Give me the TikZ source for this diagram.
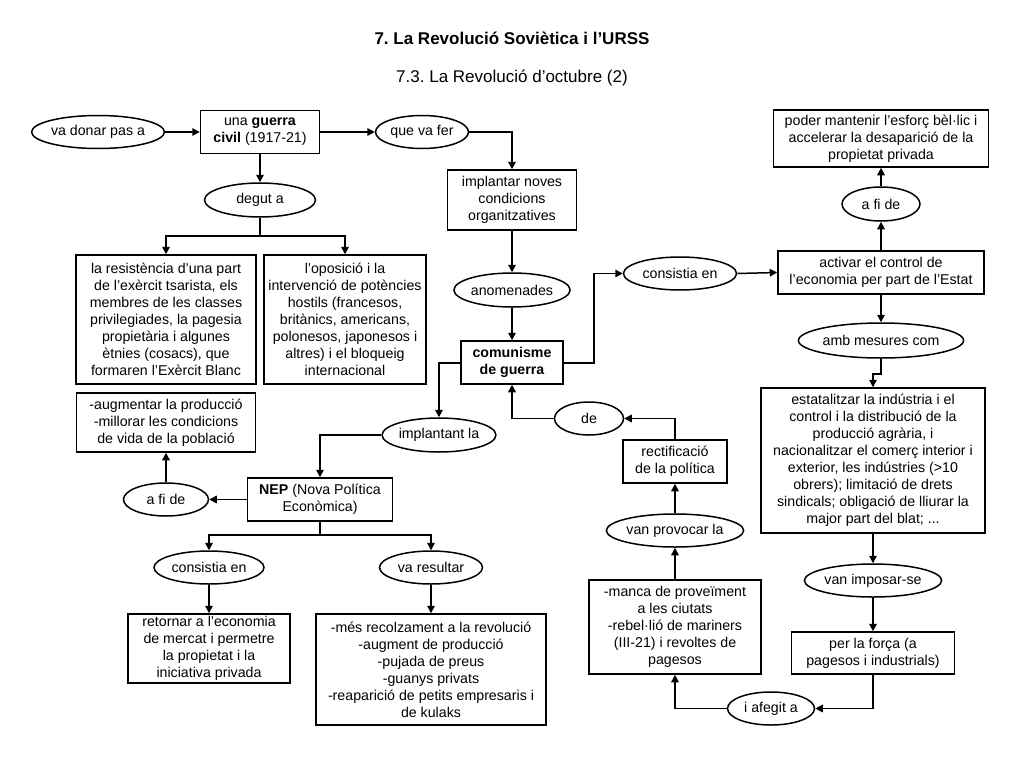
\documentclass[tikz,border=0pt]{standalone}
\usepackage{fontspec}
\setmainfont{Liberation Sans}
\usetikzlibrary{arrows.meta,shapes.geometric}
\frenchspacing
\tikzset{
  base/.style={draw, line width=1.5pt, align=center, inner sep=0pt, font=\fontsize{14.2}{17}\selectfont},
  box/.style={base, rectangle},
  oval/.style={base, ellipse},
  arr/.style={line width=1.5pt, -{Triangle[length=7.5pt,width=7.5pt]}},
  ln/.style={line width=1.5pt},
}
\begin{document}
\begin{tikzpicture}[x=1pt,y=-1pt]
\useasboundingbox[fill=white] (0,0) rectangle (1024,768);
\node[font=\fontsize{17}{20}\selectfont\bfseries] (title) at (512,38) {7. La Revolució Soviètica i l’URSS};
\node[font=\fontsize{17}{20}\selectfont] (subtitle) at (512,78) {7.3. La Revolució d’octubre (2)};

\node[oval, minimum width=111pt, minimum height=33pt] (vadonar) at (98,132) {va donar pas a};
\node[box, minimum width=119pt, minimum height=43pt] (guerra) at (260,132) {una \textbf{guerra}\\\textbf{civil} (1917-21)};
\node[oval, minimum width=93pt, minimum height=33pt] (quevafer) at (422,132) {que va fer};
\node[box, minimum width=129pt, minimum height=60pt] (implantar) at (512,200) {implantar noves\\condicions\\organitzatives};
\node[oval, minimum width=111pt, minimum height=34pt] (degut) at (260,200) {degut a};
\node[box, minimum width=180pt, minimum height=129pt] (resist) at (166,319.5) {la resistència d’una part\\de l’exèrcit tsarista, els\\membres de les classes\\privilegiades, la pagesia\\propietària i algunes\\ètnies (cosacs), que\\formaren l’Exèrcit Blanc};
\node[box, minimum width=162pt, minimum height=129pt] (oposicio) at (345,319.5) {l’oposició i la\\intervenció de potències\\hostils (francesos,\\britànics, americans,\\polonesos, japonesos i\\altres) i el bloqueig\\internacional};
\node[oval, minimum width=111pt, minimum height=34pt] (anomenades) at (512,290) {anomenades};
\node[box, minimum width=102pt, minimum height=43pt] (comunisme) at (512,362.5) {\textbf{comunisme}\\\textbf{de guerra}};
\node[oval, minimum width=113pt, minimum height=33pt] (consistiaA) at (680,273.5) {consistia en};
\node[box, minimum width=206pt, minimum height=43pt] (activar) at (881,272.5) {activar el control de\\l’economia per part de l’Estat};
\node[oval, minimum width=78pt, minimum height=34pt] (afideA) at (881,204) {a fi de};
\node[box, minimum width=215pt, minimum height=57pt] (poder) at (881,138.5) {poder mantenir l’esforç bèl·lic i\\accelerar la desaparició de la\\propietat privada};
\node[oval, minimum width=147pt, minimum height=35pt] (amb) at (881,340.5) {amb mesures com};
\node[box, minimum width=224pt, minimum height=145pt] (estatal) at (873,460.5) {estatalitzar la indústria i el\\control i la distribució de la\\producció agrària, i\\nacionalitzar el comerç interior i\\exterior, les indústries (>10\\obrers); limitació de drets\\sindicals; obligació de lliurar la\\major part del blat; ...};
\node[oval, minimum width=129pt, minimum height=33pt] (imposar) at (873,580.5) {van imposar-se};
\node[box, minimum width=163pt, minimum height=42pt] (forca) at (873,653) {per la força (a\\pagesos i industrials)};
\node[oval, minimum width=87pt, minimum height=33pt] (afegit) at (771,708.5) {i afegit a};
\node[box, minimum width=172pt, minimum height=94pt] (manca) at (675,627) {-manca de proveïment\\a les ciutats\\-rebel·lió de mariners\\(III-21) i revoltes de\\pagesos};
\node[oval, minimum width=120pt, minimum height=33pt] (provocar) at (675,530.5) {van provocar la};
\node[box, minimum width=104pt, minimum height=43pt] (rectif) at (675,461.5) {rectificació\\de la política};
\node[oval, minimum width=69pt, minimum height=33pt] (de) at (589,418.5) {de};
\node[box, minimum width=179pt, minimum height=59pt] (augmentar) at (166,422.5) {-augmentar la producció\\-millorar les condicions\\de vida de la població};
\node[oval, minimum width=111pt, minimum height=34pt] (implantant) at (439,435) {implantant la};
\node[box, minimum width=145pt, minimum height=43pt] (nep) at (320,499.5) {\textbf{NEP} (Nova Política\\Econòmica)};
\node[oval, minimum width=85pt, minimum height=33pt] (afideB) at (166,499.5) {a fi de};
\node[oval, minimum width=110pt, minimum height=33pt] (consistiaB) at (209,567.5) {consistia en};
\node[oval, minimum width=103pt, minimum height=33pt] (resultar) at (431,567.5) {va resultar};
\node[box, minimum width=162pt, minimum height=69pt] (retornar) at (209,648.5) {retornar a l’economia\\de mercat i permetre\\la propietat i la\\iniciativa privada};
\node[box, minimum width=230pt, minimum height=111pt] (mes) at (431,669.5) {-més recolzament a la revolució\\-augment de producció\\-pujada de preus\\-guanys privats\\-reaparició de petits empresaris i\\de kulaks};

% connectors
\draw[arr] (vadonar.east) -- (guerra.west);
\draw[arr] (guerra.east) -- (quevafer.west);
\draw[arr] (quevafer.east) -| (implantar.north);
\draw[arr] (guerra.south) -- (degut.north);
\coordinate (b1) at (260,236);
\draw[ln] (degut.south) -- (b1);
\draw[arr] (b1) -| (resist.north);
\draw[arr] (b1) -| (oposicio.north);
\draw[arr] (implantar.south) -- (anomenades.north);
\draw[arr] (anomenades.south) -- (comunisme.north);
\coordinate (k1) at (594,363);
\draw[arr] (comunisme.east |- k1) -- (k1) |- (consistiaA.west);
\draw[arr] (consistiaA.east) -- (activar.west);
\draw[arr] (activar.north) -- (afideA.south);
\draw[arr] (afideA.north) -- (poder.south);
\draw[arr] (activar.south) -- (amb.north);
\draw[arr] (amb.south) -- ++(0,15) -| (estatal.north);
\draw[arr] (estatal.south) -- (imposar.north);
\draw[arr] (imposar.south) -- (forca.north);
\draw[arr] (forca.south) |- (afegit.east);
\draw[arr] (afegit.west) -| (manca.south);
\draw[arr] (manca.north) -- (provocar.south);
\draw[arr] (provocar.north) -- (rectif.south);
\draw[arr] (rectif.north) |- (de.east);
\draw[arr] (de.west) -| (comunisme.south);
\draw[arr] (comunisme.west |- k1) -| (implantant.north);
\draw[arr] (implantant.west) -| (nep.north);
\draw[arr] (nep.west) -- (afideB.east);
\draw[arr] (afideB.north) -- (augmentar.south);
\coordinate (b2) at (320,535);
\draw[ln] (nep.south) -- (b2);
\draw[arr] (b2) -| (consistiaB.north);
\draw[arr] (b2) -| (resultar.north);
\draw[arr] (consistiaB.south) -- (retornar.north);
\draw[arr] (resultar.south) -- (mes.north);
\end{tikzpicture}
\end{document}
